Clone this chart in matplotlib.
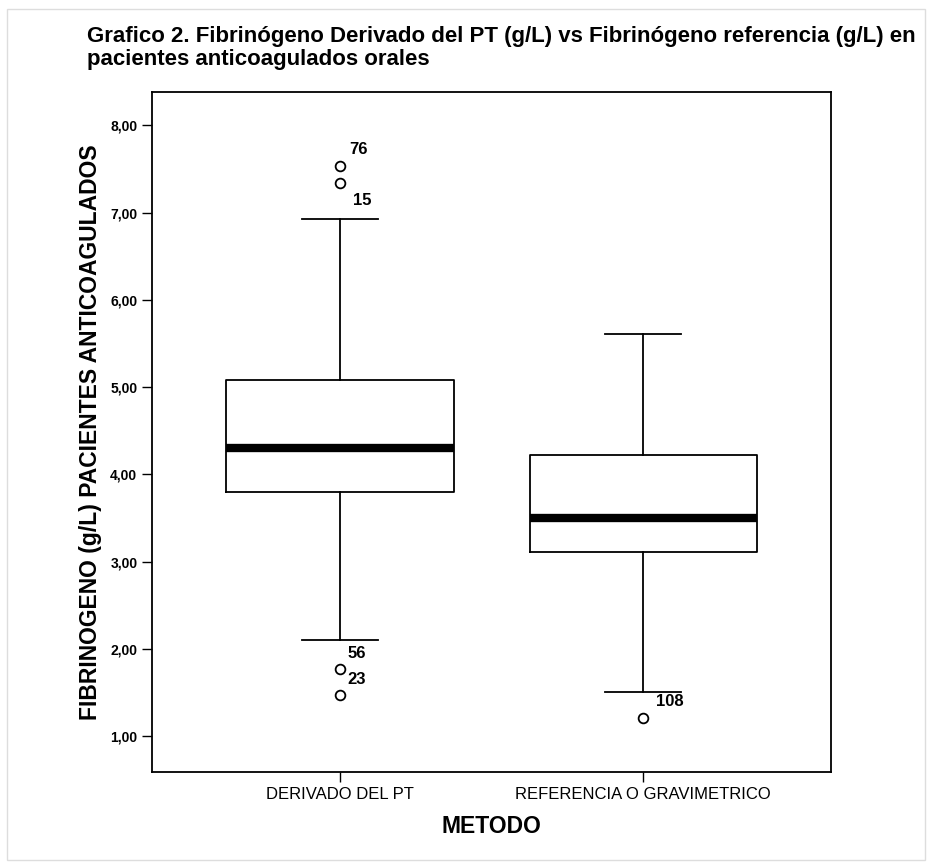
import matplotlib.pyplot as plt
from matplotlib.ticker import FuncFormatter

categories = ["DERIVADO DEL PT", "REFERENCIA O GRAVIMETRICO"]
q1 = [3.80, 3.11]
medians = [4.30, 3.50]
q3 = [5.08, 4.22]
whisker_low = [2.10, 1.51]
whisker_high = [6.93, 5.61]
outliers = [[7.53, 7.34, 1.77, 1.47], [1.21]]
outlier_ids = [["76", "15", "56", "23"], ["108"]]
# label offsets in points (dx, dy) for each outlier label
label_offsets = [[(13, 12), (16, -13), (12, 11), (12, 11)], [(19, 12)]]

plt.rcParams['font.family'] = ['Liberation Sans', 'DejaVu Sans']

fig = plt.figure(figsize=(9.32, 8.65), dpi=100)
ax = fig.add_axes([0.163, 0.1075, 0.729, 0.786])

stats = []
for i in range(len(categories)):
    stats.append({
        "label": categories[i], "q1": q1[i], "med": medians[i], "q3": q3[i],
        "whislo": whisker_low[i], "whishi": whisker_high[i], "fliers": outliers[i],
    })

ax.bxp(stats, positions=[1, 2], widths=0.75, capwidths=0.25,
       boxprops=dict(color="black", linewidth=1.3),
       whiskerprops=dict(color="black", linewidth=1.3),
       capprops=dict(color="black", linewidth=1.3),
       medianprops=dict(color="black", linewidth=6, solid_capstyle="butt"),
       flierprops=dict(marker="o", markersize=7, markerfacecolor="none",
                       markeredgecolor="black", markeredgewidth=1.3))

for i in range(len(categories)):
    for v, lab, off in zip(outliers[i], outlier_ids[i], label_offsets[i]):
        ax.annotate(lab, (i + 1, v), xytext=off, textcoords="offset points",
                    ha="center", va="center", fontsize=12, fontweight="bold")

ax.set_xlim(0.38, 2.62)
ax.set_ylim(0.59, 8.38)
ax.set_yticks([1, 2, 3, 4, 5, 6, 7, 8])
ax.yaxis.set_major_formatter(FuncFormatter(lambda v, p: f"{v:.2f}".replace(".", ",")))
ax.tick_params(axis="y", direction="out", length=7, width=1, labelsize=10)
ax.tick_params(axis="x", direction="out", length=7, width=1, labelsize=12)
for t in ax.get_yticklabels():
    t.set_fontweight("bold")
for s in ax.spines.values():
    s.set_linewidth(1.3)

ax.set_xlabel("METODO", fontsize=16.5, fontweight="bold", labelpad=10)
ax.set_ylabel("FIBRINOGENO (g/L) PACIENTES ANTICOAGULADOS", fontsize=16.5,
              fontweight="bold", labelpad=6)

fig.text(0.093, 0.97, "Grafico 2. Fibrinógeno Derivado del PT (g/L) vs Fibrinógeno referencia (g/L) en\n"
         "pacientes anticoagulados orales", fontsize=16, fontweight="bold",
         ha="left", va="top", linespacing=1.1)

fig.patches.append(plt.Rectangle((0.008, 0.006), 0.985, 0.984, transform=fig.transFigure,
                                 fill=False, edgecolor="#dddddd", linewidth=1))

fig.savefig("out.png", dpi=100)
